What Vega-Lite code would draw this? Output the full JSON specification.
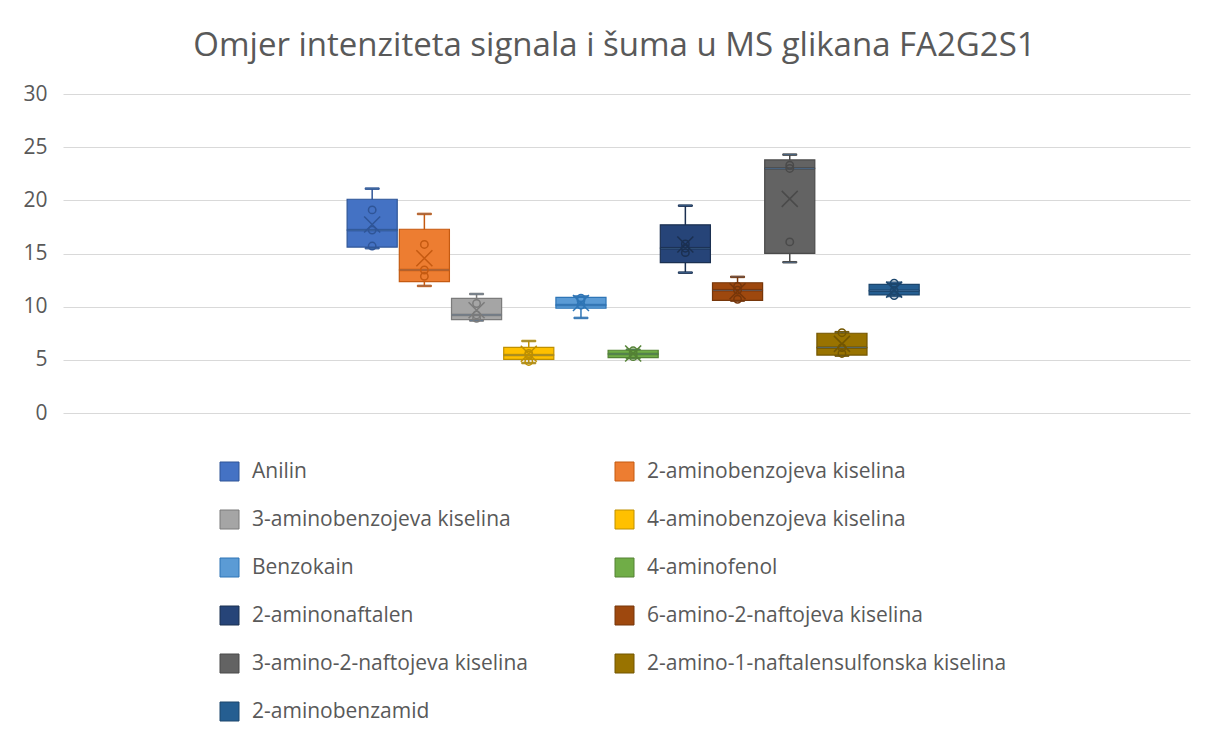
{
  "$schema": "https://vega.github.io/schema/vega-lite/v6.json",
  "width": 1127,
  "height": 319,
  "autosize": {"type": "none"},
  "padding": {"left": 63, "top": 94, "right": 19, "bottom": 340},
  "background": "white",
  "config": {
    "font": "Open Sans",
    "view": {"stroke": null},
    "axis": {"labelColor": "#595959", "labelFont": "Open Sans"}
  },
  "title": {
    "text": "Omjer intenziteta signala i šuma u MS glikana FA2G2S1",
    "fontSize": 33,
    "font": "Open Sans",
    "fontWeight": "normal",
    "color": "#595959",
    "anchor": "middle",
    "frame": "group",
    "dx": -12,
    "dy": 34,
    "baseline": "alphabetic",
    "offset": 28
  },
  "datasets": {
    "sazetak": [
      {"serija": "Anilin", "min": 15.5, "q1": 15.6, "medijan": 17.2, "q3": 20.1, "max": 21.1, "prosjek": 17.72},
      {"serija": "2-aminobenzojeva kiselina", "min": 11.95, "q1": 12.35, "medijan": 13.45, "q3": 17.28, "max": 18.72, "prosjek": 14.55},
      {"serija": "3-aminobenzojeva kiselina", "min": 8.7, "q1": 8.78, "medijan": 9.22, "q3": 10.78, "max": 11.19, "prosjek": 9.67},
      {"serija": "4-aminobenzojeva kiselina", "min": 4.7, "q1": 5.05, "medijan": 5.45, "q3": 6.18, "max": 6.77, "prosjek": 5.58},
      {"serija": "Benzokain", "min": 8.94, "q1": 9.85, "medijan": 10.15, "q3": 10.88, "max": 10.95, "prosjek": 10.35},
      {"serija": "4-aminofenol", "min": 5.17, "q1": 5.2, "medijan": 5.55, "q3": 5.9, "max": 5.95, "prosjek": 5.6},
      {"serija": "2-aminonaftalen", "min": 13.2, "q1": 14.15, "medijan": 15.5, "q3": 17.7, "max": 19.5, "prosjek": 15.84},
      {"serija": "6-amino-2-naftojeva kiselina", "min": 10.57, "q1": 10.6, "medijan": 11.55, "q3": 12.25, "max": 12.8, "prosjek": 11.45},
      {"serija": "3-amino-2-naftojeva kiselina", "min": 14.18, "q1": 15.02, "medijan": 23.0, "q3": 23.8, "max": 24.3, "prosjek": 20.14},
      {"serija": "2-amino-1-naftalensulfonska kiselina", "min": 5.4, "q1": 5.45, "medijan": 6.15, "q3": 7.5, "max": 7.6, "prosjek": 6.5},
      {"serija": "2-aminobenzamid", "min": 11.0, "q1": 11.1, "medijan": 11.5, "q3": 12.1, "max": 12.25, "prosjek": 11.6}
    ],
    "tocke": [
      {"serija": "Anilin", "vrijednost": 15.7},
      {"serija": "Anilin", "vrijednost": 17.2},
      {"serija": "Anilin", "vrijednost": 19.1},
      {"serija": "2-aminobenzojeva kiselina", "vrijednost": 12.85},
      {"serija": "2-aminobenzojeva kiselina", "vrijednost": 13.45},
      {"serija": "2-aminobenzojeva kiselina", "vrijednost": 15.85},
      {"serija": "3-aminobenzojeva kiselina", "vrijednost": 8.9},
      {"serija": "3-aminobenzojeva kiselina", "vrijednost": 9.22},
      {"serija": "3-aminobenzojeva kiselina", "vrijednost": 10.3},
      {"serija": "4-aminobenzojeva kiselina", "vrijednost": 4.85},
      {"serija": "4-aminobenzojeva kiselina", "vrijednost": 5.45},
      {"serija": "4-aminobenzojeva kiselina", "vrijednost": 5.6},
      {"serija": "Benzokain", "vrijednost": 10.15},
      {"serija": "Benzokain", "vrijednost": 10.6},
      {"serija": "Benzokain", "vrijednost": 10.8},
      {"serija": "4-aminofenol", "vrijednost": 5.3},
      {"serija": "4-aminofenol", "vrijednost": 5.55},
      {"serija": "4-aminofenol", "vrijednost": 5.85},
      {"serija": "2-aminonaftalen", "vrijednost": 15.08},
      {"serija": "2-aminonaftalen", "vrijednost": 15.5},
      {"serija": "2-aminonaftalen", "vrijednost": 15.9},
      {"serija": "6-amino-2-naftojeva kiselina", "vrijednost": 10.7},
      {"serija": "6-amino-2-naftojeva kiselina", "vrijednost": 11.55},
      {"serija": "6-amino-2-naftojeva kiselina", "vrijednost": 11.9},
      {"serija": "3-amino-2-naftojeva kiselina", "vrijednost": 16.09},
      {"serija": "3-amino-2-naftojeva kiselina", "vrijednost": 23.0},
      {"serija": "3-amino-2-naftojeva kiselina", "vrijednost": 23.3},
      {"serija": "2-amino-1-naftalensulfonska kiselina", "vrijednost": 5.6},
      {"serija": "2-amino-1-naftalensulfonska kiselina", "vrijednost": 6.15},
      {"serija": "2-amino-1-naftalensulfonska kiselina", "vrijednost": 7.55},
      {"serija": "2-aminobenzamid", "vrijednost": 11.05},
      {"serija": "2-aminobenzamid", "vrijednost": 11.5},
      {"serija": "2-aminobenzamid", "vrijednost": 12.2}
    ]
  },
  "data": {"name": "sazetak"},
  "encoding": {
    "x": {
      "datum": "1",
      "type": "nominal",
      "axis": null,
      "scale": {"paddingInner": 0, "paddingOuter": 0.485, "align": 0.512}
    },
    "xOffset": {
      "field": "serija",
      "type": "nominal",
      "scale": {
        "domain": ["Anilin", "2-aminobenzojeva kiselina", "3-aminobenzojeva kiselina", "4-aminobenzojeva kiselina", "Benzokain", "4-aminofenol", "2-aminonaftalen", "6-amino-2-naftojeva kiselina", "3-amino-2-naftojeva kiselina", "2-amino-1-naftalensulfonska kiselina", "2-aminobenzamid"],
        "paddingInner": 0.04,
        "paddingOuter": 0
      }
    }
  },
  "layer": [
    {
      "mark": {"type": "rule", "strokeWidth": 1.5, "opacity": 1},
      "encoding": {
        "y": {
          "field": "min",
          "type": "quantitative",
          "scale": {"domain": [0, 30], "nice": false},
          "axis": {
            "title": null,
            "values": [0, 5, 10, 15, 20, 25, 30],
            "domain": false,
            "ticks": false,
            "labelPadding": 16,
            "labelFontSize": 21,
            "gridColor": "#D9D9D9",
            "gridWidth": 1
          }
        },
        "y2": {"field": "max"},
        "stroke": {"field": "serija", "type": "nominal",
          "scale": {"domain": ["Anilin", "2-aminobenzojeva kiselina", "3-aminobenzojeva kiselina", "4-aminobenzojeva kiselina", "Benzokain", "4-aminofenol", "2-aminonaftalen", "6-amino-2-naftojeva kiselina", "3-amino-2-naftojeva kiselina", "2-amino-1-naftalensulfonska kiselina", "2-aminobenzamid"],
            "range": ["#2F5597", "#C55A11", "#7B7B7B", "#BF9000", "#2E75B6", "#548235", "#1B3051", "#76360A", "#4A4A4A", "#735600", "#1C466D"]}}
      }
    },
    {
      "mark": {"type": "tick", "size": 14, "thickness": 1.5, "opacity": 1},
      "encoding": {
        "y": {"field": "max", "type": "quantitative"},
        "stroke": {"field": "serija", "type": "nominal"}
      }
    },
    {
      "mark": {"type": "tick", "size": 14, "thickness": 1.5, "opacity": 1},
      "encoding": {
        "y": {"field": "min", "type": "quantitative"},
        "stroke": {"field": "serija", "type": "nominal"}
      }
    },
    {
      "mark": {"type": "bar", "strokeWidth": 1.2, "opacity": 1},
      "encoding": {
        "y": {"field": "q1", "type": "quantitative"},
        "y2": {"field": "q3"},
        "fill": {
          "field": "serija",
          "type": "nominal",
          "scale": {
            "domain": ["Anilin", "2-aminobenzojeva kiselina", "3-aminobenzojeva kiselina", "4-aminobenzojeva kiselina", "Benzokain", "4-aminofenol", "2-aminonaftalen", "6-amino-2-naftojeva kiselina", "3-amino-2-naftojeva kiselina", "2-amino-1-naftalensulfonska kiselina", "2-aminobenzamid"],
            "range": ["#4472C4", "#ED7D31", "#A5A5A5", "#FFC000", "#5B9BD5", "#70AD47", "#264478", "#9E480E", "#636363", "#997300", "#255E91"]
          },
          "legend": {
            "title": null,
            "orient": "none",
            "legendX": 156,
            "legendY": 367,
            "columns": 2,
            "direction": "horizontal",
            "symbolType": "square",
            "symbolSize": 361,
            "symbolStrokeWidth": 1,
            "symbolOpacity": 1,
            "labelFontSize": 21,
            "labelColor": "#595959",
            "labelFont": "Open Sans",
            "labelOffset": 12,
            "labelLimit": 500,
            "rowPadding": 25,
            "columnPadding": 85,
            "gridAlign": "each"
          }
        },
        "stroke": {"field": "serija", "type": "nominal"}
      }
    },
    {
      "mark": {"type": "tick", "size": 50, "thickness": 1.5, "opacity": 1},
      "encoding": {
        "y": {"field": "medijan", "type": "quantitative"},
        "stroke": {"field": "serija", "type": "nominal"}
      }
    },
    {
      "mark": {"type": "point", "shape": "M-1,-1L1,1M1,-1L-1,1", "size": 256, "filled": false, "strokeWidth": 1.5, "opacity": 1},
      "encoding": {
        "y": {"field": "prosjek", "type": "quantitative"},
        "stroke": {"field": "serija", "type": "nominal"}
      }
    },
    {
      "data": {"name": "tocke"},
      "mark": {"type": "point", "shape": "circle", "size": 55, "filled": false, "strokeWidth": 1.5, "opacity": 1},
      "encoding": {
        "y": {"field": "vrijednost", "type": "quantitative"},
        "stroke": {"field": "serija", "type": "nominal"}
      }
    }
  ]
}
